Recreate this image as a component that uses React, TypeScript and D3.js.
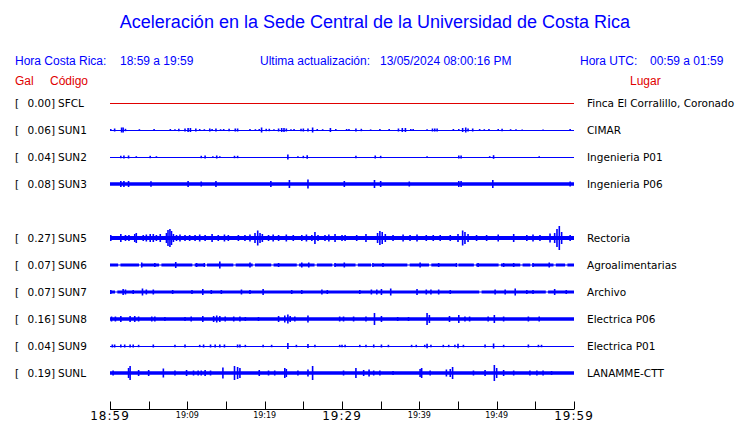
import * as d3 from 'd3';

// minutes after 18:59 (local time)
const TICK_MINUTES = [0, 5, 10, 15, 20, 25, 30, 35, 40, 45, 50, 55, 60];
const TICK_LABELS = ['18:59', '', '19:09', '', '19:19', '', '19:29', '', '19:39', '', '19:49', '', '19:59'];
const BIG_LABELS = ['18:59', '19:29', '19:59'];

const CODES = ['SFCL', 'SUN1', 'SUN2', 'SUN3', 'SUN5', 'SUN6', 'SUN7', 'SUN8', 'SUN9', 'SUNL'];
const GALS = [0.0, 0.06, 0.04, 0.08, 0.27, 0.07, 0.07, 0.16, 0.04, 0.19];
const PLACES = [
  'Finca El Corralillo, Coronado', 'CIMAR', 'Ingenieria P01', 'Ingenieria P06',
  'Rectoria', 'Agroalimentarias', 'Archivo', 'Electrica P06', 'Electrica P01', 'LANAMME-CTT',
];
const SLOTS = [0, 1, 2, 3, 5, 6, 7, 8, 9, 10];
// background noise level (relative amplitude)
const NOISE = [0, 0.5, 0.5, 1.7, 2, 1.6, 1.5, 1.8, 0.5, 1.8];

const GAPS: number[][] = [
  [], [], [], [], [],
  [1.2, 3.9, 6.5, 10.8, 12.4, 16.1, 18.6, 21.0, 24.3, 26.6, 28.9, 31.9, 33.9, 38.6, 41.4, 44.9, 47.2, 50.4, 53.2, 54.5, 57.5, 59.0],
  [0.8, 47.9, 56.5],
  [], [], [],
];

// [minute, amplitude]
const EVENTS: [number, number][][] = [
  [],
  [[0.1, 1], [0.6, 1.5], [1.5, 2.5], [1.7, 2.5], [2.0, 1.2], [3.8, 0.8], [5.7, 1], [7.8, 1], [8.4, 0.8], [8.9, 1.2], [9.7, 1.5], [10.1, 2], [10.4, 2], [11.1, 1.5], [11.6, 1], [12.2, 0.8], [12.9, 1.5], [13.2, 1], [13.7, 1.5], [14.3, 0.8], [14.7, 1], [15.4, 1.2], [16.2, 1.5], [16.5, 1.5], [18.1, 1], [18.8, 0.8], [19.3, 1], [19.6, 2.5], [20.2, 1.2], [20.6, 1.2], [21.2, 0.8], [21.8, 1.5], [22.2, 2], [22.5, 2], [22.8, 1.5], [23.4, 0.8], [23.8, 1], [24.7, 1.2], [25.0, 1.5], [25.6, 1.5], [26.2, 2.5], [26.8, 1], [27.5, 0.8], [28.5, 2], [29.2, 1],
    [30.6, 1], [30.9, 1], [31.8, 1.5], [32.5, 1.2], [33.7, 0.6], [34.9, 1], [36.1, 1], [37.3, 1.5], [37.8, 2], [38.2, 2], [38.9, 1], [39.2, 1], [41.0, 0.8], [41.7, 1.5], [42.0, 1.5], [42.3, 1.5], [44.4, 1], [45.1, 1], [45.6, 2], [46.0, 2.5], [46.3, 1.5], [46.9, 1.5], [47.8, 1], [48.4, 0.8], [49.0, 1], [50.2, 1], [50.7, 1.2], [51.8, 0.8], [52.5, 0.8], [53.3, 0.6], [56.0, 0.6], [59.5, 1]],
  [[1.4, 1.2], [1.8, 1.5], [2.4, 1.5], [3.4, 0.8], [5.2, 1.2], [6.0, 0.8], [11.8, 1.2], [12.3, 1.5], [13.3, 0.8], [13.8, 1.5], [14.2, 0.8], [16.1, 1.2], [16.5, 1.2], [23.0, 2.5], [24.3, 0.8], [25.0, 1.2], [25.5, 1.8],
    [31.8, 1.2], [34.3, 1.5], [35.0, 1.2], [41.0, 0.8], [45.1, 1.5], [45.4, 1.5], [49.1, 0.8], [49.6, 1.8], [55.5, 0.8]],
  [[1.4, 3], [1.8, 3], [2.4, 3], [5.3, 2.8], [10.1, 3], [11.8, 2.5], [13.7, 3], [20.8, 3], [23.2, 4], [25.6, 4.5], [30.3, 3], [34.2, 4], [35.0, 3], [38.7, 2.5], [45.1, 3], [45.4, 3], [49.5, 4], [59.5, 2.5]],
  [[0.1, 3], [1.4, 4], [2.0, 3], [2.45, 3], [3.2, 4], [3.4, 5], [4.3, 3], [4.7, 3.5], [5.2, 4], [5.6, 4], [6.0, 3], [6.5, 4], [7.3, 5], [7.5, 8], [7.75, 9], [7.95, 7], [8.2, 4], [8.6, 3], [9.05, 3.5], [9.7, 3], [10.3, 3], [11.0, 3], [11.6, 3.5], [12.3, 3], [13.2, 4], [14.0, 3], [14.8, 3.5], [15.3, 3], [16.6, 3], [17.45, 3], [18.1, 3.5], [18.75, 5], [19.1, 7.5], [19.4, 5], [19.7, 4], [20.5, 3], [21.1, 3.5], [21.8, 3], [22.8, 3.5], [23.7, 3], [24.8, 3], [25.4, 3.5], [26.1, 3], [26.5, 6], [26.9, 3], [27.8, 3], [28.3, 3.5], [29.1, 4], [30.0, 3],
    [30.4, 3], [31.9, 3], [33.1, 4], [34.6, 5], [34.9, 7], [35.2, 6], [35.6, 4], [36.6, 3], [37.9, 3.5], [38.8, 3], [39.7, 3.5], [40.9, 3], [41.8, 3], [42.7, 3], [44.0, 3], [45.0, 4], [45.6, 7.5], [45.9, 6], [46.3, 4], [47.4, 3], [48.7, 3], [50.2, 3.5], [52.2, 4], [53.9, 3], [54.7, 3.5], [55.6, 3], [56.9, 4.5], [57.5, 5], [57.8, 9], [58.1, 12], [58.4, 6], [59.5, 3]],
  [[4.1, 2.5], [5.8, 2], [8.5, 3], [11.2, 2], [12.2, 2], [14.2, 3.5], [18.1, 2.5], [21.8, 2], [24.8, 2.5], [25.7, 2.5], [29.1, 2], [30.3, 2.5], [34.0, 2], [35.3, 2], [40.1, 2.5], [42.5, 2], [44.8, 2], [47.6, 2], [50.9, 2], [52.2, 2], [54.7, 2], [56.8, 2.5]],
  [[0.1, 2], [1.7, 3], [2.0, 2.5], [3.0, 2], [4.2, 3.5], [4.7, 2.5], [5.6, 2.5], [8.1, 2], [10.6, 2], [12.0, 3], [13.1, 2], [14.4, 2], [17.0, 2.5], [18.1, 2], [19.8, 3], [23.5, 2], [24.8, 2], [27.4, 2.5], [28.1, 2],
    [32.3, 2], [33.8, 2.5], [34.5, 2.5], [35.1, 3], [36.3, 3.5], [39.7, 3], [40.9, 2.5], [41.5, 2.5], [42.5, 2.5], [44.0, 2], [49.8, 2.5], [51.1, 2.5], [52.4, 3.5], [53.9, 2], [54.7, 2], [57.5, 3], [59.0, 2]],
  [[0.2, 2.5], [0.7, 2.5], [1.4, 3], [2.6, 3], [3.2, 3], [3.7, 2.5], [5.4, 2.5], [5.8, 2.5], [7.1, 2], [9.7, 2], [10.5, 2.5], [12.0, 3], [13.4, 3], [13.8, 3.5], [14.2, 3], [14.9, 2.5], [16.0, 2.5], [16.8, 2.5], [17.5, 2], [19.2, 2], [21.8, 3], [22.6, 3.5], [23.0, 4.5], [23.3, 3], [23.9, 2.5], [25.6, 3.5], [29.7, 2.5],
    [30.2, 2.5], [31.5, 2.5], [33.1, 2.5], [34.2, 6], [35.1, 3], [37.2, 2], [38.6, 2], [41.0, 6], [41.3, 4], [43.9, 3], [45.1, 4], [45.9, 2.5], [46.5, 2.5], [48.9, 2.5], [49.7, 4], [50.9, 2.5], [54.1, 2.5], [55.5, 2.5]],
  [[0.3, 1.5], [0.6, 1.5], [1.4, 1.5], [1.9, 1.5], [2.6, 1.5], [3.0, 1.5], [3.7, 1.2], [5.6, 1.5], [8.4, 1.2], [9.7, 1.5], [11.6, 1.2], [12.1, 1.5], [13.0, 1.5], [13.6, 1.5], [14.2, 1.5], [14.8, 1.5], [16.5, 1.5], [16.8, 1.5], [17.5, 1.2], [19.8, 1.2], [20.9, 1.2], [23.0, 3], [24.1, 1.2], [25.6, 2], [26.5, 1.2], [29.7, 1.2],
    [30.0, 1.2], [30.4, 1.2], [32.3, 1.2], [33.1, 1.2], [34.1, 1.5], [35.1, 1.5], [36.0, 1.2], [39.0, 1.2], [39.6, 1.2], [40.7, 1.2], [41.0, 2.2], [41.5, 1.2], [43.1, 1.2], [43.8, 1.2], [44.6, 1.2], [45.0, 2.2], [45.7, 1.2], [48.5, 1.5], [49.6, 2.5], [50.9, 1.2], [54.1, 1.5], [55.4, 1.2], [55.8, 1.2]],
  [[0.4, 2.5], [2.4, 5], [2.6, 7], [3.7, 3], [5.0, 3], [6.9, 4.5], [8.4, 2.5], [9.9, 3], [10.8, 2.5], [11.4, 2.5], [11.8, 2.5], [12.3, 3], [13.0, 2.5], [14.6, 5.5], [16.1, 7], [16.5, 6], [16.8, 5], [19.3, 3], [20.5, 2.5], [21.3, 2.5], [22.6, 5], [22.8, 4], [24.3, 2.5], [25.6, 3.5], [26.2, 7],
    [30.2, 2.5], [31.8, 5], [32.8, 3], [33.5, 3.5], [34.1, 2.5], [34.9, 2.5], [36.6, 2], [40.1, 4], [40.3, 5], [41.4, 2.5], [43.5, 3.5], [44.0, 4], [44.3, 6], [47.0, 2.5], [48.5, 3], [49.7, 8], [50.0, 5], [50.9, 3], [52.2, 2.5], [54.3, 2.5], [55.2, 2.5], [56.0, 2.5], [57.1, 2]],
];

const BLUE = '#0000ff';
const RED = '#e00000';
const SANS = 'Liberation Sans, Arial, sans-serif';
const DEJA = 'DejaVu Sans, sans-serif';

export default function App() {
  const width = 740;
  const height = 423;
  const x = d3.scaleLinear().domain([0, 60]).range([110, 574]);
  const row = d3.scaleLinear().domain([0, 10]).range([103, 373]);
  const amp = d3.scaleLinear().domain([0, 12]).range([0, 12]);
  const axisY = 409.5;

  const baseArea = (noise: number, gaps: number[], cy: number) => {
    const pts: [number, number][] = [[0, noise]];
    gaps.forEach(g => {
      pts.push([g - 0.15, 0.5]);
      pts.push([g + 0.15, noise]);
    });
    pts.push([60, noise]);
    return d3.area<[number, number]>()
      .x(d => x(d[0]))
      .y0(d => cy - amp(d[1]))
      .y1(d => cy + amp(d[1]))
      .curve(d3.curveStepAfter)(pts) as string;
  };

  return (
    <svg width={width} height={height} style={{ position: 'absolute', left: 0, top: 0, background: '#fff' }}>
      <text x={375} y={28} textAnchor="middle" fontFamily={SANS} fontSize={18} fill={BLUE}>
        Aceleración en la Sede Central de la Universidad de Costa Rica
      </text>

      <g fontFamily={SANS} fontSize={12} fill={BLUE}>
        <text x={15} y={65}>Hora Costa Rica:</text>
        <text x={120} y={65}>18:59 a 19:59</text>
        <text x={260} y={65}>Ultima actualización:</text>
        <text x={380} y={65}>13/05/2024 08:00:16 PM</text>
        <text x={580} y={65}>Hora UTC:</text>
        <text x={650} y={65}>00:59 a 01:59</text>
      </g>
      <g fontFamily={SANS} fontSize={12} fill={RED}>
        <text x={15} y={85}>Gal</text>
        <text x={50} y={85}>Código</text>
        <text x={630} y={85}>Lugar</text>
      </g>

      {CODES.map((code, i) => {
        const cy = row(SLOTS[i]);
        const color = i === 0 ? RED : BLUE;
        return (
          <g key={code}>
            <g fontFamily={DEJA} fontSize={10.5} fill="#000">
              <text x={15} y={cy + 4}>[</text>
              <text x={55} y={cy + 4} textAnchor="end">{GALS[i].toFixed(2)}]</text>
              <text x={58} y={cy + 4}>{code}</text>
              <text x={587} y={cy + 4}>{PLACES[i]}</text>
            </g>
            {NOISE[i] <= 0.5 ? (
              <line x1={x(0)} x2={x(60)} y1={cy + 0.5} y2={cy + 0.5} stroke={color} strokeWidth={1} />
            ) : (
              <path d={baseArea(NOISE[i], GAPS[i], cy)} fill={color} />
            )}
            {EVENTS[i].map(([t, a], k) => (
              <line key={k} x1={x(t)} x2={x(t)} y1={cy - amp(a)} y2={cy + amp(a)} stroke={color} strokeWidth={1.6} />
            ))}
          </g>
        );
      })}

      <line x1={x(0)} x2={x(60)} y1={axisY} y2={axisY} stroke="#000" strokeWidth={1} />
      {TICK_MINUTES.map((m, i) => {
        const label = TICK_LABELS[i];
        const big = BIG_LABELS.includes(label);
        const tx = Math.round(x(m)) + 0.5;
        return (
          <g key={m}>
            <line x1={tx} x2={tx} y1={axisY - 8} y2={axisY} stroke="#000" strokeWidth={1} />
            {label && (
              <text x={x(m)} y={big ? 420 : 418} textAnchor="middle" fontFamily={DEJA}
                fontSize={big ? 12 : 8} letterSpacing={big ? 1 : 0} fill="#000">
                {label}
              </text>
            )}
          </g>
        );
      })}
    </svg>
  );
}
